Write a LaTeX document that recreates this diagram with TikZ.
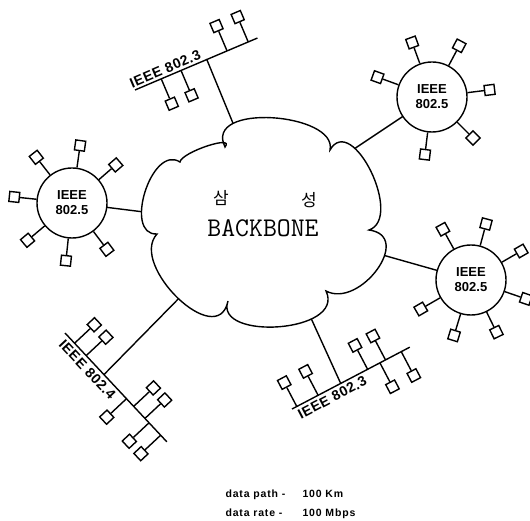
\documentclass[tikz,border=0pt]{standalone}
\usepackage{fontspec}
\setmainfont{Liberation Sans}
\newfontfamily\lanfont{Liberation Sans}
\newfontfamily\buslanfont[LetterSpace=4]{Liberation Sans}
\newfontfamily\legendfont[LetterSpace=8]{Liberation Sans}
\newfontfamily\krfont{Noto Sans CJK KR}
\usetikzlibrary{calc}
\usepackage{tkz-euclide}
\tikzset{
  wire/.style={line width=1.4pt},
  stnbox/.style={draw,line width=1.4pt,fill=white,minimum size=10pt,inner sep=0pt},
  tokenring/.style={draw,circle,line width=1.4pt,fill=white,minimum size=70pt,inner sep=0pt,
    align=center,font=\lanfont\bfseries\fontsize{13}{15}\selectfont},
  buslabel/.style={font=\buslanfont\bfseries\fontsize{14}{16}\selectfont,inner sep=1.5pt}
}
% station hanging off a bus: position, side (1 or -1), name
\newcommand{\BusStation}[3]{\node[stnbox] (#3) at (#1,#2*27) {}; \draw[wire] (#1,0) -- (#3);}
% station on a ring: ring, angle, name
\newcommand{\RingStation}[3]{\node[stnbox,rotate=#2] (#3) at ($(#1)+(#2:58)$) {}; \draw[wire] (#1.#2) -- (#3);}

\begin{document}
\begin{tikzpicture}[x=1pt,y=1pt]
\useasboundingbox (0,0) rectangle (530,520);
\tkzDefPoints{72/317/L,432/423/T,471/240/R}
\tkzDefPoints{244/370/cA,342/363/cT,160/306/cL,365/270/cR,190/233/cB,305/215/cC}

% IEEE 802.3, top
\begin{scope}[shift={(135,430)},rotate=23,transform shape]
\draw[wire] (0,0) -- (133,0);
\coordinate (jA) at (78,0);
\node[buslabel,anchor=south] (labA) at (36,1) {IEEE 802.3};
\BusStation{28.5}{-1}{a1}
\BusStation{50}{-1}{a2}
\BusStation{100}{1}{a3}
\BusStation{123}{1}{a4}
\end{scope}

% IEEE 802.4
\begin{scope}[shift={(65,187)},rotate=-46.9,transform shape]
\draw[wire] (0,0) -- (149,0);
\coordinate (jB) at (57,0);
\node[buslabel,anchor=north] (labB) at (42,-2) {IEEE 802.4};
\BusStation{14}{1}{b1}
\BusStation{31}{1}{b2}
\BusStation{90}{-1}{b3}
\BusStation{100.5}{1}{b4}
\BusStation{117}{1}{b5}
\BusStation{123}{-1}{b6}
\BusStation{140}{-1}{b7}
\end{scope}

% IEEE 802.3, bottom
\begin{scope}[shift={(292,111)},rotate=27.7,transform shape]
\draw[wire] (0,0) -- (133,0);
\coordinate (jC) at (55,0);
\node[buslabel,anchor=north] (labC) at (41,-2) {IEEE 802.3};
\BusStation{5.4}{1}{c1}
\BusStation{29.5}{1}{c2}
\BusStation{85.4}{1}{c3}
\BusStation{99.3}{-1}{c4}
\BusStation{105.6}{1}{c5}
\BusStation{123.4}{-1}{c6}
\end{scope}

\tkzDrawSegments[line width=1.4pt](jA,cA T,cT L,cL R,cR jB,cB jC,cC)

% backbone cloud
\draw[line width=1.4pt,fill=white] (180,358)
  .. controls (181.5,367.8) and (235.5,385.8) .. (225,373)
  .. controls (203,418) and (338,407) .. (330,370)
  .. controls (352,408) and (404,302) .. (369,290)
  .. controls (414,284) and (360,211) .. (326,229)
  .. controls (346,187) and (213.5,179) .. (228,219)
  .. controls (217.6,168.3) and (128.4,255) .. (157,286)
  .. controls (122.9,284.4) and (151.5,376.2) .. (180,358) -- cycle;
\node[font=\krfont\fontsize{17}{20}\selectfont] (sam) at (221,322) {삼};
\node[font=\krfont\fontsize{17}{20}\selectfont] (sung) at (309,320) {성};
\node[font=\ttfamily\fontsize{27}{30}\selectfont\addfontfeature{LetterSpace=10}] (bb) at (263,292) {BACKBONE};

% token rings
\node[tokenring] (ringL) at (L) {IEEE\\802.5};
\foreach \a [count=\i] in {41,82,128,174,220,264,307} {\RingStation{ringL}{\a}{l\i}}
\node[tokenring] (ringT) at (T) {IEEE\\802.5};
\foreach \a [count=\i] in {7,62,110,160,263,315} {\RingStation{ringT}{\a}{t\i}}
\node[tokenring] (ringR) at (R) {IEEE\\802.5};
\foreach \a [count=\i] in {30,75,119,210,253,296,341} {\RingStation{ringR}{\a}{r\i}}

\node[anchor=base west,font=\legendfont\bfseries\fontsize{10.5}{12}\selectfont] (lgPath) at (222,23) {\makebox[77pt][l]{data path -}100 Km};
\node[anchor=base west,font=\legendfont\bfseries\fontsize{10.5}{12}\selectfont] (lgRate) at (222,4) {\makebox[77pt][l]{data rate -}100 Mbps};
\end{tikzpicture}
\end{document}
